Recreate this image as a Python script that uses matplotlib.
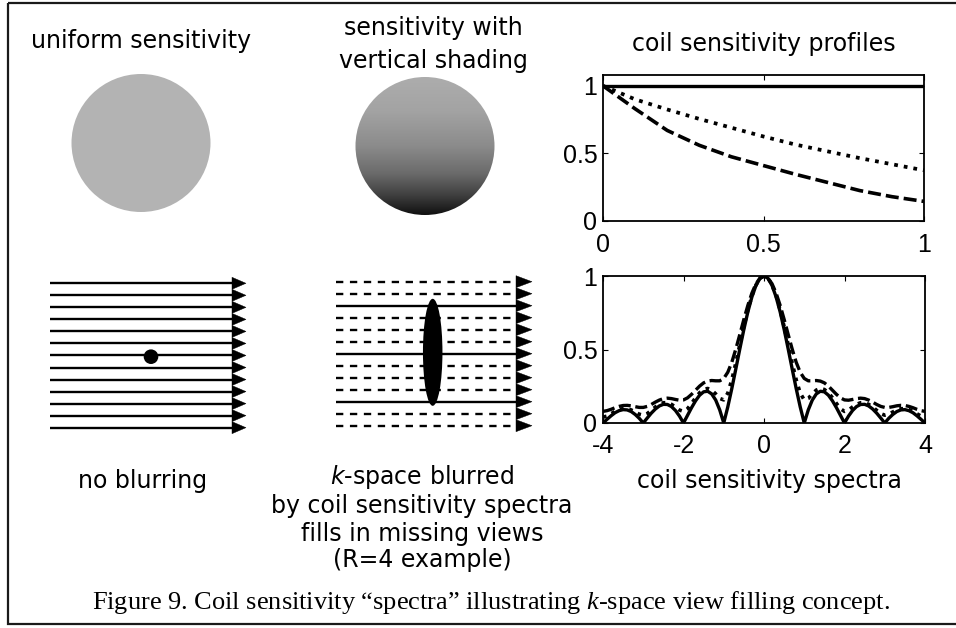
import numpy as np
import matplotlib
matplotlib.use("Agg")
import matplotlib.pyplot as plt
from matplotlib.patches import Ellipse, Circle, Polygon, Rectangle
from matplotlib.colors import LinearSegmentedColormap

plt.rcParams['font.family'] = ['DejaVu Sans']
plt.rcParams['mathtext.fontset'] = 'custom'
plt.rcParams['mathtext.it'] = 'Liberation Serif:italic'
plt.rcParams['mathtext.sf'] = 'DejaVu Sans:italic'

# ---- data ----
profile_x = [0.0, 0.1, 0.2, 0.3, 0.4, 0.5, 0.6, 0.7, 0.8, 0.9, 1.0]
profile_uniform = [1.0, 1.0, 1.0, 1.0, 1.0, 1.0, 1.0, 1.0, 1.0, 1.0, 1.0]
profile_dotted = [1.00, 0.90, 0.825, 0.755, 0.69, 0.625, 0.565, 0.515, 0.465, 0.42, 0.375]
profile_dashed = [1.00, 0.83, 0.67, 0.56, 0.475, 0.41, 0.345, 0.285, 0.225, 0.18, 0.145]

spec_k = [i / 10 for i in range(-40, 41)]
spec_solid = [0.0, 0.025, 0.049, 0.070, 0.084, 0.091, 0.089, 0.078, 0.058, 0.032,
              0.0, 0.034, 0.067, 0.095, 0.116, 0.127, 0.126, 0.112, 0.085, 0.047,
              0.0, 0.052, 0.104, 0.151, 0.189, 0.212, 0.216, 0.198, 0.156, 0.089,
              0.0, 0.109, 0.234, 0.368, 0.505, 0.637, 0.757, 0.858, 0.935, 0.984,
              1.0,
              0.984, 0.935, 0.858, 0.757, 0.637, 0.505, 0.368, 0.234, 0.109, 0.0,
              0.089, 0.156, 0.198, 0.216, 0.212, 0.189, 0.151, 0.104, 0.052, 0.0,
              0.047, 0.085, 0.112, 0.126, 0.127, 0.116, 0.095, 0.067, 0.034, 0.0,
              0.032, 0.058, 0.078, 0.089, 0.091, 0.084, 0.070, 0.049, 0.025, 0.0]
spec_dotted = [0.040, 0.047, 0.063, 0.079, 0.092, 0.098, 0.097, 0.089, 0.075, 0.060,
               0.053, 0.064, 0.086, 0.109, 0.127, 0.138, 0.138, 0.127, 0.109, 0.088,
               0.079, 0.097, 0.133, 0.172, 0.206, 0.228, 0.235, 0.224, 0.198, 0.167,
               0.157, 0.203, 0.294, 0.409, 0.534, 0.656, 0.769, 0.865, 0.939, 0.985,
               1.0,
               0.985, 0.939, 0.865, 0.769, 0.656, 0.534, 0.409, 0.294, 0.203, 0.157,
               0.167, 0.198, 0.224, 0.235, 0.228, 0.206, 0.172, 0.133, 0.097, 0.079,
               0.088, 0.109, 0.127, 0.138, 0.138, 0.127, 0.109, 0.086, 0.064, 0.053,
               0.060, 0.075, 0.089, 0.097, 0.098, 0.092, 0.079, 0.063, 0.047, 0.040]
spec_dashed = [0.079, 0.084, 0.093, 0.104, 0.113, 0.119, 0.120, 0.117, 0.111, 0.106,
               0.106, 0.113, 0.126, 0.142, 0.156, 0.166, 0.169, 0.166, 0.160, 0.155,
               0.157, 0.171, 0.195, 0.223, 0.251, 0.273, 0.285, 0.289, 0.287, 0.287,
               0.303, 0.345, 0.413, 0.503, 0.603, 0.705, 0.801, 0.884, 0.947, 0.986,
               1.0,
               0.986, 0.947, 0.884, 0.801, 0.705, 0.603, 0.503, 0.413, 0.345, 0.303,
               0.287, 0.287, 0.289, 0.285, 0.273, 0.251, 0.223, 0.195, 0.171, 0.157,
               0.155, 0.160, 0.166, 0.169, 0.166, 0.156, 0.142, 0.126, 0.113, 0.106,
               0.106, 0.111, 0.117, 0.120, 0.119, 0.113, 0.104, 0.093, 0.084, 0.079]

n_views = 13            # k-space lines in the sketches
acquired_views = [2, 6, 10]   # R=4 undersampling

profile_ticks = [0, 0.5, 1]
profile_ticklabels = ['0', '0.5', '1']
spec_xticks = [-4, -2, 0, 2, 4]
spec_xticklabels = ['-4', '-2', '0', '2', '4']

# ---- figure, pixel-space background axes ----
W, H = 956, 628
fig = plt.figure(figsize=(W / 100, H / 100), dpi=100)
bg = fig.add_axes([0, 0, 1, 1])
bg.set_xlim(0, W)
bg.set_ylim(H, 0)
bg.axis('off')

# frame (right edge runs off the picture)
bg.add_patch(Rectangle((8, 3), 1000, 621, fill=False, lw=1.6, ec='#1a1a1a'))

txt = dict(fontsize=17, ha='center', va='center', color='k')
bg.text(141, 41, 'uniform sensitivity', **txt)
bg.text(433, 28, 'sensitivity with', **txt)
bg.text(433, 61, 'vertical shading', **txt)
bg.text(764, 44, 'coil sensitivity profiles', **txt)
bg.text(143, 481, 'no blurring', **txt)
bg.text(422, 477, r'$\mathsf{k}$-space blurred', **txt)
bg.text(422, 506, 'by coil sensitivity spectra', **txt)
bg.text(422, 534, 'fills in missing views', **txt)
bg.text(422, 560, '(R=4 example)', **txt)
bg.text(769, 481, 'coil sensitivity spectra', **txt)
bg.text(491, 603, 'Figure 9. Coil sensitivity \u201cspectra\u201d illustrating '
        r'$\mathit{k}$-space view filling concept.',
        fontsize=19, family='Liberation Serif', ha='center', va='center')

# uniform sensitivity disc
bg.add_patch(Ellipse((141, 143), 139, 138, fc='#b3b3b3', ec='none'))

# shaded disc: gray ramp clipped to a disc
shade = LinearSegmentedColormap.from_list(
    'shade', [(0.0, '#adadad'), (0.25, '#a3a3a3'), (0.5, '#8b8b8b'),
              (0.7, '#6a6a6a'), (0.85, '#404040'), (1.0, '#0e0e0e')])
disc = Ellipse((425, 146), 139, 138, fc='none', ec='none')
bg.add_patch(disc)
ramp = np.linspace(0, 1, 256).reshape(-1, 1)
im = bg.imshow(ramp, cmap=shade, vmin=0, vmax=1, extent=[354, 496, 216, 76],
               origin='upper', aspect='auto', interpolation='bilinear')
im.set_clip_path(disc)
bg.set_xlim(0, W)
bg.set_ylim(H, 0)


def k_lines(x0, x1, tip, y0, dy, dashed_rows=None):
    for i in range(n_views):
        y = y0 + i * dy
        ls = '-'
        if dashed_rows is not None and i not in acquired_views:
            ls = (0, (3.1, 2.8))
        bg.plot([x0, x1], [y, y], color='k', lw=1.7, ls=ls, solid_capstyle='butt')
        bg.add_patch(Polygon([(x1, y - dy / 2), (x1, y + dy / 2), (tip, y)],
                             closed=True, fc='k', ec='k', lw=0.3))


# fully sampled k-space, point spread = dot
k_lines(50, 232, 246, 283.3, 12.03)
bg.add_patch(Circle((151, 356.7), 7.3, fc='k', ec='none'))

# undersampled k-space, blurred by coil spectra
k_lines(336, 516, 532, 281.7, 12.0, dashed_rows=True)
bg.add_patch(Ellipse((432.7, 352.3), 19.5, 107, fc='k', ec='none'))


def style_axes(ax, xticks, xlabels, xpad):
    ax.tick_params(direction='in', length=3.5, width=0.8, top=True, right=True)
    ax.tick_params(axis='x', pad=xpad)
    ax.tick_params(axis='y', pad=4)
    ax.set_xticks(xticks)
    ax.set_xticklabels(xlabels, fontsize=18, family='Liberation Sans')
    ax.set_yticks(profile_ticks)
    ax.set_yticklabels(profile_ticklabels, fontsize=18, family='Liberation Sans')
    for s in ax.spines.values():
        s.set_linewidth(1.3)


# coil sensitivity profiles
ax1 = fig.add_axes([603 / W, 1 - 221 / H, 321 / W, 146 / H])
ax1.plot(profile_x, profile_uniform, color='k', lw=2.4)
ax1.plot(profile_x, profile_dotted, color='k', lw=2.7, ls=(0, (1.0, 1.6)))
ax1.plot(profile_x, profile_dashed, color='k', lw=2.6, ls=(0, (3.6, 1.4)))
ax1.set_xlim(0, 1)
ax1.set_ylim(0, 1.08)
style_axes(ax1, profile_ticks, profile_ticklabels, 9)

# coil sensitivity spectra
ax2 = fig.add_axes([603 / W, 1 - 423 / H, 322 / W, 147 / H])
ax2.plot(spec_k, spec_solid, color='k', lw=2.4)
ax2.plot(spec_k, spec_dotted, color='k', lw=2.6, ls=(0, (1.0, 1.6)))
ax2.plot(spec_k, spec_dashed, color='k', lw=2.4, ls=(0, (3.6, 1.4)))
ax2.set_xlim(-4, 4)
ax2.set_ylim(0, 1)
style_axes(ax2, spec_xticks, spec_xticklabels, 8)

fig.savefig('out.png', dpi=100)
